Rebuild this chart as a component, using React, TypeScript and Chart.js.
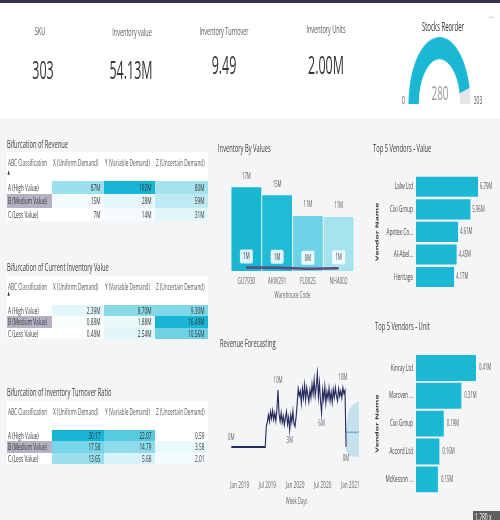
import React, { useEffect, useRef } from "react";
import { Chart, registerables } from "chart.js";

Chart.register(...registerables);

const FONT = '"Open Sans", "Noto Sans", "DejaVu Sans", sans-serif';
Chart.defaults.font.family = FONT;

// ---------------- data ----------------
const kpiTitles = ["SKU", "Inventory value", "Inventory Turnover", "Inventory Units"];
const kpiValues = ["303", "54.13M", "9.49", "2.00M"];
const gaugeTitle = "Stocks Reorder";
const gaugeValue = 280;
const gaugeMax = 303;

const abcClasses = ["A (High Value)", "B (Medium Value)", "C (Less Value)"];
const xyzHeaders = ["X (Uniform Demand)", "Y (Variable Demand)", "Z (Uncertain Demand)"];

const revenueX = [87, 15, 7];
const revenueY = [192, 28, 14];
const revenueZ = [80, 59, 31];

const invValueX = [2.39, 0.88, 0.48];
const invValueY = [8.7, 1.88, 2.54];
const invValueZ = [9.3, 16.49, 10.56];

const turnoverX = [30.17, 17.58, 13.65];
const turnoverY = [22.07, 14.79, 5.68];
const turnoverZ = [0.59, 3.58, 2.01];

const warehouseCodes = ["GU7930", "AKW291", "FL0025", "NH4002"];
const warehouseValues = [16.9, 15.3, 11.1, 10.9];
const warehouseUnits = [0.72, 0.66, 0.45, 0.58];

// weekly revenue (M), first point is 8 weeks before Jan 2019
const revenueStartWeek = -8;
const revenueWeekly = [
  0, 0, 0, 0, 0, 0, 0, 0, 0, 0, 0,
  0, 0, 0, 0, 0, 0, 0, 0, 0, 0, 0,
  0, 0, 0, 0, 0, 0, 0, 0, 0, 0, 0,
  3.6, 4.4, 5.6, 4.5, 6.2, 5.0, 6.4, 4.8, 5.9, 4.6, 6.6,
  10.0, 5.8, 4.5, 6.0, 4.3, 5.4, 3.9, 5.1, 6.2, 4.0, 5.2,
  3.0, 5.6, 4.4, 6.3, 4.1, 3.6, 5.2, 7.5, 10.2, 9.0, 9.8,
  7.7, 10.3, 8.6, 10.9, 8.2, 10.4, 9.2, 7.9, 10.0, 8.7, 11.0,
  9.3, 11.8, 9.0, 10.6, 13.0, 8.8, 11.3, 8.0, 6.0, 10.0, 8.3,
  10.6, 7.7, 9.7, 8.5, 10.3, 8.1, 9.6, 7.8, 10.1, 8.7, 10.4,
  9.0, 8.1, 10.2, 8.9, 9.8, 8.6, 10.4, 9.4, 9.9, 0.0,
];
const revenueLabelWeeks = [-8, 36, 47, 77, 97, 100];
const revenueLabelAbove = [true, true, false, false, true, false];
const forecastWeeks = [100, 102, 104, 107, 111, 115];
const forecastMean = [2.6, 2.6, 2.6, 2.6, 2.6, 2.6];
const forecastUpper = [3.6, 6.0, 6.9, 7.4, 7.9, 8.1];
const forecastLower = [-0.5, -1.4, -1.6, -1.7, -1.7, -1.8];
const revenueTickWeeks = [0, 26, 52, 78, 104];
const revenueTickLabels = ["Jan 2019", "Jul 2019", "Jan 2020", "Jul 2020", "Jan 2021"];

const vendorValueNames = ["Lalw Ltd", "Cixi Group", "Apotex Co...", "Al-Abel...", "Heritage"];
const vendorValues = [6.79, 5.96, 4.61, 4.45, 4.17];
const vendorUnitNames = ["Kinray Ltd", "Marcven ...", "Cixi Group", "Accord Ltd", "McKesson ..."];
const vendorUnits = [0.41, 0.31, 0.19, 0.16, 0.15];

// ---------------- helpers ----------------
const CYAN = "#1bb8d6";
const abs = (o: any) => ({ position: "absolute" as const, ...o });

function ChartCanvas(p: { left: number; top: number; width: number; height: number; make: () => any; extra?: any }) {
  const ref = useRef<HTMLCanvasElement | null>(null);
  useEffect(() => {
    if (!ref.current) return;
    const chart = new Chart(ref.current, p.make());
    return () => chart.destroy();
  }, []);
  return (
    <canvas
      ref={ref}
      width={p.width}
      height={p.height}
      style={{ position: "absolute", left: p.left, top: p.top, width: p.width, height: p.height, ...(p.extra || {}) }}
    />
  );
}

const baseOpts = {
  responsive: false,
  animation: false as const,
  events: [] as any[],
};

// ---------------- charts ----------------
function makeGauge() {
  return {
    type: "doughnut",
    data: {
      datasets: [
        {
          data: [gaugeValue, gaugeMax - gaugeValue],
          backgroundColor: [CYAN, "#e6e6e6"],
          borderWidth: 0,
        },
      ],
    },
    options: {
      ...baseOpts,
      rotation: -90,
      circumference: 180,
      cutout: "67%",
      layout: { padding: 0 },
      plugins: { legend: { display: false }, tooltip: { enabled: false } },
    },
  };
}

function makeWarehouse() {
  const labelsPlugin = {
    id: "whLabels",
    afterDatasetsDraw(chart: any) {
      const ctx = chart.ctx;
      ctx.save();
      ctx.textAlign = "center";
      ctx.textBaseline = "middle";
      const bars = chart.getDatasetMeta(1).data;
      ctx.font = `8.5px ${FONT}`;
      ctx.fillStyle = "#555";
      bars.forEach((el: any, i: number) => {
        ctx.fillText(`${Math.round(warehouseValues[i])}M`, el.x, el.y - 11);
      });
      const pts = chart.getDatasetMeta(0).data;
      pts.forEach((el: any, i: number) => {
        const cx = el.x;
        const cy = el.y - 11;
        ctx.fillStyle = "rgba(255,255,255,0.85)";
        const w = 26, h = 14, r = 3;
        ctx.beginPath();
        ctx.moveTo(cx - w / 2 + r, cy - h / 2);
        ctx.arcTo(cx + w / 2, cy - h / 2, cx + w / 2, cy + h / 2, r);
        ctx.arcTo(cx + w / 2, cy + h / 2, cx - w / 2, cy + h / 2, r);
        ctx.arcTo(cx - w / 2, cy + h / 2, cx - w / 2, cy - h / 2, r);
        ctx.arcTo(cx - w / 2, cy - h / 2, cx + w / 2, cy - h / 2, r);
        ctx.closePath();
        ctx.fill();
        ctx.fillStyle = "#444";
        ctx.font = `9px ${FONT}`;
        ctx.fillText(`${Math.round(warehouseUnits[i])}M`, cx, cy + 0.5);
      });
      ctx.restore();
    },
  };
  return {
    type: "bar",
    data: {
      labels: warehouseCodes,
      datasets: [
        {
          type: "line",
          data: warehouseUnits,
          borderColor: "#5d4a7e",
          borderWidth: 2.5,
          pointRadius: 0,
          order: 0,
        },
        {
          type: "bar",
          data: warehouseValues,
          backgroundColor: ["#19b6d4", "#21bad7", "#6cd3e6", "#a5e4ef"],
          barPercentage: 0.97,
          categoryPercentage: 1,
          order: 1,
        },
      ],
    },
    options: {
      ...baseOpts,
      layout: { padding: { left: 22, right: 8, top: 22, bottom: 0 } },
      plugins: { legend: { display: false }, tooltip: { enabled: false } },
      scales: {
        x: {
          grid: { display: false, drawTicks: false },
          border: { display: false },
          ticks: { font: { size: 9.5 }, color: "#666", padding: 5 },
          title: {
            display: true,
            text: "Warehouse Code",
            font: { size: 9 },
            color: "#666",
            padding: { top: 2, bottom: 0 },
          },
          afterFit: (scale: any) => {
            scale.height = 30;
          },
        },
        y: { display: false, min: 0, max: 20 },
      },
    },
    plugins: [labelsPlugin],
  };
}

function makeRevenue() {
  const labelsPlugin = {
    id: "revLabels",
    afterDatasetsDraw(chart: any) {
      const ctx = chart.ctx;
      const meta = chart.getDatasetMeta(0).data;
      ctx.save();
      ctx.font = `9px ${FONT}`;
      ctx.fillStyle = "#666";
      ctx.textAlign = "center";
      ctx.textBaseline = "middle";
      revenueLabelWeeks.forEach((w, k) => {
        const i = w - revenueStartWeek;
        const el = meta[i];
        if (!el) return;
        ctx.fillText(`${Math.round(revenueWeekly[i])}M`, el.x, el.y + (revenueLabelAbove[k] ? -10 : 11));
      });
      ctx.restore();
    },
  };
  const actual = revenueWeekly.map((v, i) => ({ x: revenueStartWeek + i, y: v }));
  return {
    type: "line",
    data: {
      datasets: [
        {
          data: actual,
          borderColor: "#262a5c",
          borderWidth: 2.2,
          pointRadius: 0,
          order: 0,
        },
        {
          data: forecastWeeks.map((w, i) => ({ x: w, y: forecastUpper[i] })),
          borderWidth: 0,
          pointRadius: 0,
          fill: "+1",
          backgroundColor: "rgba(160,205,232,0.55)",
          tension: 0.3,
          order: 2,
        },
        {
          data: forecastWeeks.map((w, i) => ({ x: w, y: forecastLower[i] })),
          borderWidth: 0,
          pointRadius: 0,
          fill: false,
          tension: 0.3,
          order: 2,
        },
        {
          data: forecastWeeks.map((w, i) => ({ x: w, y: forecastMean[i] })),
          borderColor: "#7fb0d6",
          borderWidth: 1.5,
          pointRadius: 0,
          order: 1,
        },
      ],
    },
    options: {
      ...baseOpts,
      layout: { padding: { left: 22.4, right: 8, top: 12.2, bottom: 0 } },
      plugins: { legend: { display: false }, tooltip: { enabled: false } },
      scales: {
        x: {
          type: "linear",
          min: revenueStartWeek,
          max: 115,
          grid: { display: false, drawTicks: false },
          border: { display: false },
          afterBuildTicks: (scale: any) => {
            scale.ticks = revenueTickWeeks.map((v) => ({ value: v }));
          },
          afterFit: (scale: any) => {
            scale.height = 31.5;
          },
          ticks: {
            autoSkip: false,
            maxRotation: 0,
            font: { size: 9.5 },
            color: "#666",
            padding: 4.5,
            callback: (v: any) => {
              const k = revenueTickWeeks.indexOf(Number(v));
              return k >= 0 ? revenueTickLabels[k] : "";
            },
          },
          title: {
            display: true,
            text: "Week Days",
            font: { size: 8.5 },
            color: "#666",
            padding: { top: 4.3, bottom: 0 },
          },
        },
        y: { display: false, min: -5, max: 14 },
      },
    },
    plugins: [labelsPlugin],
  };
}

function makeVendor(names: string[], values: number[], max: number, barPct: number, padTop: number, padBottom: number, gap: number) {
  const labelsPlugin = {
    id: "vendLabels",
    afterDatasetsDraw(chart: any) {
      const ctx = chart.ctx;
      ctx.save();
      ctx.font = `8.5px ${FONT}`;
      ctx.fillStyle = "#555";
      ctx.textAlign = "left";
      ctx.textBaseline = "middle";
      chart.getDatasetMeta(0).data.forEach((el: any, i: number) => {
        ctx.fillText(`${values[i].toFixed(2)}M`, el.x + gap, el.y);
      });
      ctx.restore();
    },
  };
  return {
    type: "bar",
    data: {
      labels: names,
      datasets: [
        {
          data: values,
          backgroundColor: CYAN,
          barPercentage: barPct,
          categoryPercentage: 1,
        },
      ],
    },
    options: {
      ...baseOpts,
      indexAxis: "y",
      layout: { padding: { left: 5, right: 10, top: padTop, bottom: padBottom } },
      plugins: { legend: { display: false }, tooltip: { enabled: false } },
      scales: {
        x: { display: false, min: 0, max },
        y: {
          grid: { display: false, drawTicks: false },
          border: { display: false },
          ticks: { font: { size: 9.5 }, color: "#444", padding: 6 },
          title: {
            display: true,
            text: "Vendor Name",
            font: { size: 8.5, weight: "bold" },
            color: "#333",
            padding: { top: 4, bottom: 0 },
          },
          afterFit: (scale: any) => {
            scale.width = 87;
          },
        },
      },
    },
    plugins: [labelsPlugin],
  };
}

// ---------------- tables ----------------
const COL_LEFT = [14, 104, 208, 310];
const COL_W = [90, 104, 102, 106];

function Matrix(p: {
  title: string;
  titleY: number;
  headerY: number;
  arrowY: number | null;
  rowsTop: number;
  rowH: number;
  cols: number[][];
  fmt: (v: number) => string;
}) {
  const all = p.cols.flat();
  const mn = Math.min(...all);
  const mx = Math.max(...all);
  const shade = (v: number) => {
    const t = (v - mn) / (mx - mn);
    return `rgb(${Math.round(255 - 231 * t)},${Math.round(255 - 73 * t)},${Math.round(255 - 43 * t)})`;
  };
  const whiteTop = p.headerY - 11;
  const bottom = p.rowsTop + 3 * p.rowH;
  const cell = {
    boxSizing: "border-box" as const,
    fontSize: 9.5,
    color: "#333",
    whiteSpace: "nowrap" as const,
    overflow: "hidden" as const,
  };
  return (
    <>
      <div style={abs({ left: 14, top: p.titleY - 8, height: 16, lineHeight: "16px", fontSize: 11.5, color: "#3a3a3a", whiteSpace: "nowrap" })}>
        {p.title}
      </div>
      <div style={abs({ left: 14, top: whiteTop, width: 402, height: bottom - whiteTop, background: "#fff" })} />
      {["ABC Classification", ...xyzHeaders].map((h, j) => (
        <div
          key={h}
          style={abs({ ...cell, color: "#555", left: COL_LEFT[j] + 2, top: p.headerY - 7, width: COL_W[j] - 2, height: 14, lineHeight: "14px" })}
        >
          {h}
        </div>
      ))}
      {p.arrowY !== null && (
        <div style={abs({ left: 15, top: p.arrowY - 4, fontSize: 6, lineHeight: "8px", color: "#333" })}>▲</div>
      )}
      {abcClasses.map((c, i) => (
        <React.Fragment key={c}>
          <div
            style={abs({
              ...cell,
              left: COL_LEFT[0],
              top: p.rowsTop + i * p.rowH,
              width: COL_W[0],
              height: p.rowH,
              lineHeight: `${p.rowH}px`,
              paddingLeft: 2,
              background: i === 1 ? "#b6b2c3" : "#fff",
            })}
          >
            {c}
          </div>
          {p.cols.map((col, j) => (
            <div
              key={j}
              style={abs({
                ...cell,
                left: COL_LEFT[j + 1],
                top: p.rowsTop + i * p.rowH,
                width: COL_W[j + 1],
                height: p.rowH,
                lineHeight: `${p.rowH}px`,
                paddingRight: 7,
                textAlign: "right",
                background: shade(col[i]),
              })}
            >
              {p.fmt(col[i])}
            </div>
          ))}
        </React.Fragment>
      ))}
    </>
  );
}

// ---------------- app ----------------
const KPI_TITLE_POS = [
  [80, 31],
  [264, 31.5],
  [448, 30.5],
  [652, 29],
];
const KPI_VALUE_POS = [
  [86, 69],
  [262, 69.5],
  [448, 64.5],
  [652, 64.5],
];

function Centered(p: { cx: number; cy: number; size: number; color: string; children: any; weight?: number }) {
  const lh = Math.round(p.size * 1.3);
  return (
    <div
      style={abs({
        left: p.cx - 120,
        top: p.cy - lh / 2,
        width: 240,
        height: lh,
        lineHeight: `${lh}px`,
        textAlign: "center",
        fontSize: p.size,
        color: p.color,
        fontWeight: p.weight || 400,
        whiteSpace: "nowrap",
      })}
    >
      {p.children}
    </div>
  );
}

function Title(p: { x: number; y: number; text: string }) {
  return (
    <div style={abs({ left: p.x, top: p.y - 8, height: 16, lineHeight: "16px", fontSize: 11.5, color: "#3a3a3a", whiteSpace: "nowrap" })}>
      {p.text}
    </div>
  );
}

export default function App() {
  return (
    <div style={{ position: "fixed", left: 0, top: 0, width: 500, height: 520, overflow: "hidden", background: "#f4f5f7" }}>
      <div
        style={{
          position: "absolute",
          left: 0,
          top: 0,
          width: 1000,
          height: 520,
          transform: "scaleX(0.5)",
          transformOrigin: "0 0",
          fontFamily: FONT,
        }}
      >
        {/* top band */}
        <div style={abs({ left: 0, top: 0, width: 1000, height: 118, background: "#fff" })} />
        <div style={abs({ left: 0, top: 0, width: 1000, height: 3, background: "#34374c" })} />
        {kpiTitles.map((t, i) => (
          <Centered key={t} cx={KPI_TITLE_POS[i][0]} cy={KPI_TITLE_POS[i][1]} size={11} color="#555">
            {t}
          </Centered>
        ))}
        {kpiValues.map((v, i) => (
          <Centered key={i} cx={KPI_VALUE_POS[i][0]} cy={KPI_VALUE_POS[i][1]} size={25} color="#333">
            {v}
          </Centered>
        ))}
        <Centered cx={886} cy={26.5} size={12} color="#333">
          {gaugeTitle}
        </Centered>
        <ChartCanvas
          left={817}
          top={42}
          width={124}
          height={62}
          make={makeGauge}
          extra={{ transform: "scaleY(1.08)", transformOrigin: "50% 100%" }}
        />
        <Centered cx={880} cy={92.5} size={20} color="#999">
          {gaugeValue}
        </Centered>
        <Centered cx={807} cy={100} size={10} color="#555">
          0
        </Centered>
        <Centered cx={956} cy={100} size={10} color="#555">
          {gaugeMax}
        </Centered>
        <div style={abs({ left: 978, top: 6, fontSize: 11, color: "#999" })}>...</div>

        {/* left tables */}
        <Matrix
          title="Bifurcation of Revenue"
          titleY={144}
          headerY={163}
          arrowY={172}
          rowsTop={181}
          rowH={13.3}
          cols={[revenueX, revenueY, revenueZ]}
          fmt={(v) => `${v}M`}
        />
        <Matrix
          title="Bifurcation of Current Inventory Value"
          titleY={266.5}
          headerY={287}
          arrowY={293}
          rowsTop={304.5}
          rowH={11.6}
          cols={[invValueX, invValueY, invValueZ]}
          fmt={(v) => `${v.toFixed(2)}M`}
        />
        <Matrix
          title="Bifurcation of Inventory Turnover Ratio"
          titleY={392}
          headerY={412}
          arrowY={null}
          rowsTop={429.5}
          rowH={11.5}
          cols={[turnoverX, turnoverY, turnoverZ]}
          fmt={(v) => v.toFixed(2)}
        />

        {/* middle column */}
        <Title x={436} y={147.5} text="Inventory By Values" />
        <ChartCanvas left={440} top={150} width={276} height={151} make={makeWarehouse} />
        <Title x={440} y={343} text="Revenue Forecasting" />
        <div style={abs({ left: 426, top: 330, width: 292, height: 190, overflow: "hidden" })}>
          <ChartCanvas left={14} top={25} width={292} height={152} make={makeRevenue} />
        </div>

        {/* right column */}
        <Title x={746} y={148} text="Top 5 Vendors - Value" />
        <ChartCanvas
          left={740}
          top={160}
          width={260}
          height={140}
          make={() => makeVendor(vendorValueNames, vendorValues, 8.65, 0.89, 15.5, 9, 4)}
        />
        <Title x={750} y={325.5} text="Top 5 Vendors - Unit" />
        <ChartCanvas
          left={740}
          top={340}
          width={260}
          height={165}
          make={() => makeVendor(vendorUnitNames, vendorUnits, 0.54, 0.93, 14, 11, 6)}
        />
        <div
          style={abs({
            left: 946,
            top: 511,
            width: 60,
            height: 12,
            background: "#5e5e5e",
            color: "#fff",
            fontSize: 10,
            lineHeight: "12px",
            paddingLeft: 4,
            whiteSpace: "nowrap",
          })}
        >
          1,280 x
        </div>
      </div>
    </div>
  );
}
